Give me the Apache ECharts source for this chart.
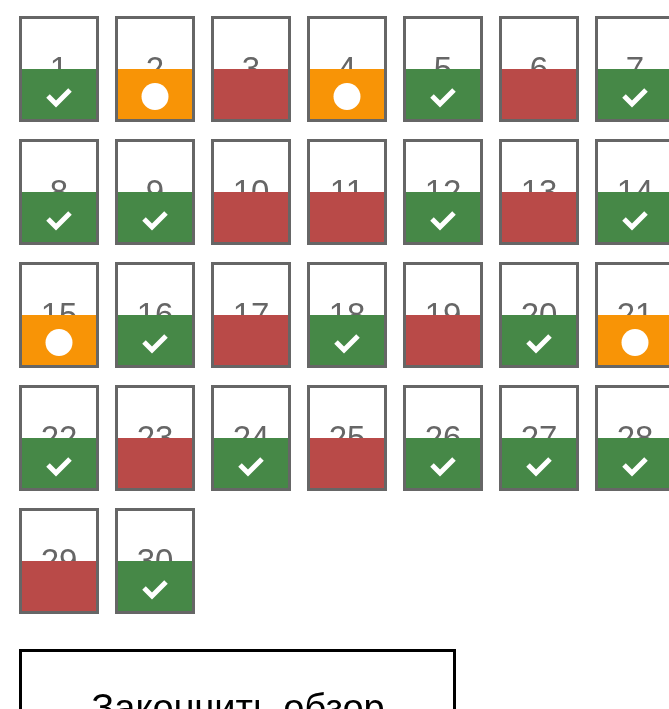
<!DOCTYPE html>
<html><head><meta charset="utf-8">
<script src="https://cdn.jsdelivr.net/npm/echarts@6/dist/echarts.min.js"></script>
<style>html,body{margin:0;padding:0;background:#fff;}#c{width:669px;height:709px;}</style>
</head><body><div id="c"></div>
<script>
// Question numbers and review status
var questions = [1,2,3,4,5,6,7,8,9,10,11,12,13,14,15,16,17,18,19,20,21,22,23,24,25,26,27,28,29,30];
var statuses = ['correct','skipped','wrong','skipped','correct','wrong','correct',
  'correct','correct','wrong','wrong','correct','wrong','correct',
  'skipped','correct','wrong','correct','wrong','correct','skipped',
  'correct','wrong','correct','wrong','correct','correct','correct',
  'wrong','correct'];
var perRow = 7;
var buttonLabel = 'Закончить обзор';

var colors = {correct:'#468847', wrong:'#B94A48', skipped:'#F89406'};
var data = questions.map(function(q,i){ return [i % perRow, Math.floor(i / perRow), q, i]; });

var chart = echarts.init(document.getElementById('c'), null, {renderer:'canvas'});
var FONT = '"Liberation Sans", Arial, sans-serif';
chart.setOption({
  animation:false,
  grid:{left:11, top:7.5, width:624, height:615},
  xAxis:{type:'value', min:-0.5, max:6, show:false},
  yAxis:{type:'value', min:-0.5, max:4.5, inverse:true, show:false},
  series:[{
    type:'custom',
    data:data,
    clip:false,
    renderItem:function(params, api){
      var c = api.coord([api.value(0), api.value(1)]);
      var idx = api.value(3);
      var st = statuses[idx];
      var w = 80, h = 106, bw = 3;
      var x0 = c[0]-w/2, y0 = c[1]-h/2;
      var ix = x0+bw, iy = y0+bw, iw = w-2*bw, ih = h-2*bw;
      var children = [
        {type:'rect', shape:{x:ix,y:iy,width:iw,height:ih}, style:{fill:'#fff'}},
        {type:'text', style:{text:String(api.value(2)), x:c[0], y:c[1]+2, align:'center', verticalAlign:'middle', fill:'#666', font:'33px '+FONT}},
        {type:'rect', shape:{x:ix,y:c[1],width:iw,height:ih/2}, style:{fill:colors[st]}}
      ];
      var my = c[1] + ih/4 + 3;
      if (st==='correct'){
        children.push({type:'polyline', shape:{points:[[c[0]-11,my-1],[c[0]-3,my+7],[c[0]+11,my-7]]},
          style:{stroke:'#fff', lineWidth:5, fill:null, lineCap:'butt', lineJoin:'miter'}});
      } else if (st==='skipped'){
        children.push({type:'circle', shape:{cx:c[0], cy:my-0.5, r:13.5}, style:{fill:'#fff'}});
      }
      children.push({type:'rect', shape:{x:x0+bw/2,y:y0+bw/2,width:w-bw,height:h-bw}, style:{fill:null, stroke:'#666', lineWidth:bw}});
      return {type:'group', children:children};
    }
  }],
  graphic:[
    {type:'rect', shape:{x:20.5, y:650.5, width:434, height:80}, style:{fill:'#fff', stroke:'#000', lineWidth:3}},
    {type:'text', style:{text:buttonLabel, x:238, y:711, align:'center', verticalAlign:'middle', fill:'#000', font:'38px '+FONT}}
  ]
});
</script></body></html>
